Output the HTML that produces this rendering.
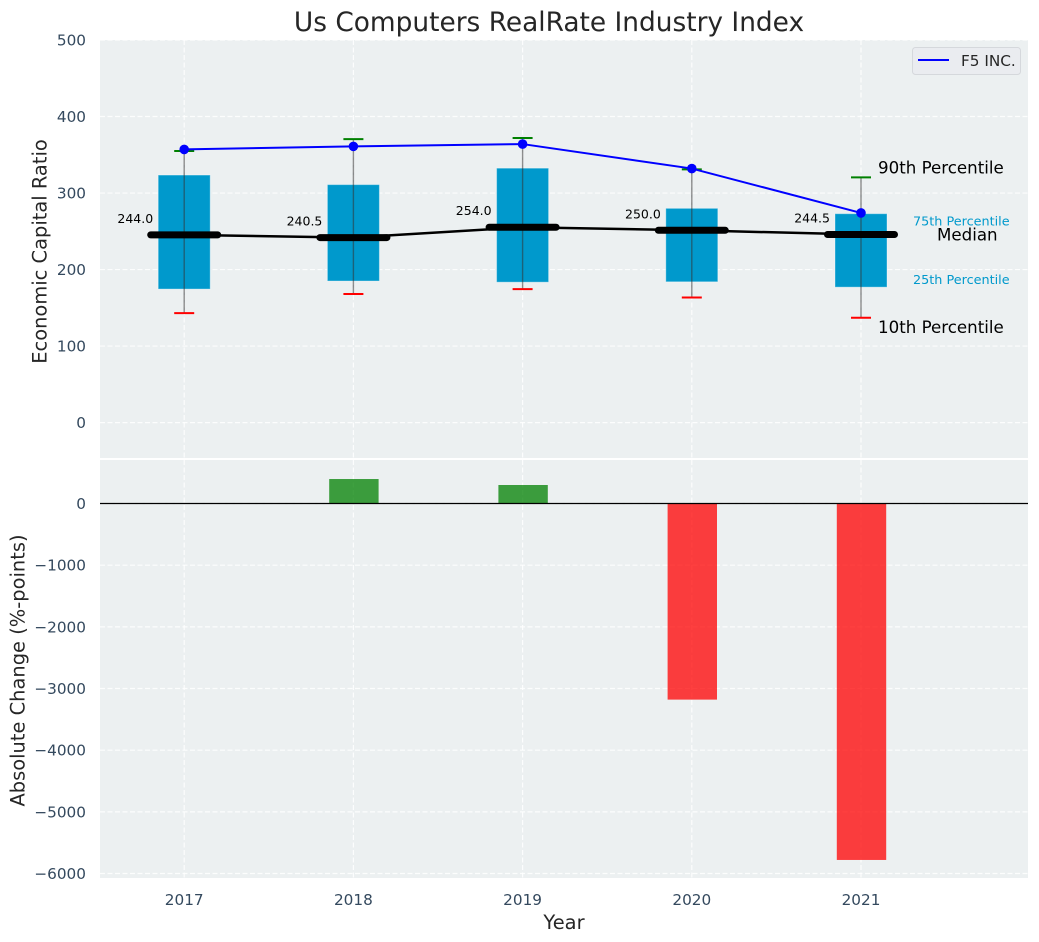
<!DOCTYPE html>
<html>
<head>
<meta charset="utf-8">
<title>Us Computers RealRate Industry Index</title>
<style>
html,body{margin:0;padding:0;background:#fff;width:1039px;height:942px;overflow:hidden}
svg{display:block}
text{font-family:"DejaVu Sans","Liberation Sans",sans-serif}
</style>
</head>
<body>
<svg id="chart" xmlns="http://www.w3.org/2000/svg" width="1039" height="942" viewBox="0 0 1039 942"></svg>
<script>
const years = [2017, 2018, 2019, 2020, 2021];
const p90 = [355, 370.5, 372, 331, 320.5];
const p75 = [323.5, 311, 332.5, 280, 273];
const medians = [244.0, 240.5, 254.0, 250.0, 244.5];
const p25 = [174.5, 185, 183.5, 184, 177];
const p10 = [143, 168, 174.5, 163.5, 137];
const companyValues = [357, 361, 364, 332, 274];
const changes = [0, 397, 300, -3180, -5780];
const topTicks = [0, 100, 200, 300, 400, 500];
const bottomTicks = [0, -1000, -2000, -3000, -4000, -5000, -6000];

const svg = document.getElementById('chart');
const NS = 'http://www.w3.org/2000/svg';
const X = v => 184.2 + (v - 2017) * 169.2;
const YT = v => 422.6 - v * 0.7652;
const YB = v => 503.5 - v * 0.06167;
const YM = v => YT(v) - 1;
const left = 100, right = 1028;
const tickFont = 15.28;

function add(tag, attrs, text) {
  const el = document.createElementNS(NS, tag);
  for (const k in attrs) el.setAttribute(k, attrs[k]);
  if (text !== undefined) el.textContent = text;
  svg.appendChild(el);
  return el;
}
function fmt(v) { return v < 0 ? '\u2212' + Math.abs(v) : String(v); }
const gridStyle = {stroke:'#ffffff','stroke-width':1.2,'stroke-dasharray':'5 2.5','stroke-opacity':0.85};

let el;
el = add('rect',{x:left,y:40,width:right-left,height:418,fill:'#ecf0f1'});


el = add('rect',{x:left,y:460,width:right-left,height:418,fill:'#ecf0f1'});



// gridlines and y ticks
topTicks.forEach(t => {
  let g = add('line',{x1:left,x2:right,y1:YT(t),y2:YT(t),...gridStyle});
  
  
  let l = add('text',{x:86,y:YT(t)+5.5,'text-anchor':'end','font-size':tickFont,fill:'#34495e'},fmt(t));
  
  
});
bottomTicks.forEach(t => {
  let g = add('line',{x1:left,x2:right,y1:YB(t),y2:YB(t),...gridStyle});
  
  
  let l = add('text',{x:86,y:YB(t)+5.5,'text-anchor':'end','font-size':tickFont,fill:'#34495e'},fmt(t));
  
  
});
years.forEach(y => {
  let g1 = add('line',{x1:X(y),x2:X(y),y1:40,y2:458,...gridStyle});
  
  
  let g2 = add('line',{x1:X(y),x2:X(y),y1:460,y2:878,...gridStyle});
  
  
  let l = add('text',{x:X(y),y:905,'text-anchor':'middle','font-size':tickFont,fill:'#34495e'},String(y));
  
  
});

// boxes
years.forEach((y,i) => {
  let b = add('rect',{x:X(y)-26,y:YT(p75[i]),width:52,height:YT(p25[i])-YT(p75[i]),fill:'#0099cc',stroke:'#ffffff','stroke-opacity':0.35,'stroke-width':1});
  
  
});

// median connecting line
let medLine = add('polyline',{points:years.map((y,i)=>X(y)+','+YM(medians[i])).join(' '),fill:'none',stroke:'#000000','stroke-width':2.5});



years.forEach((y,i) => {
  let w = add('line',{x1:X(y),x2:X(y),y1:YT(p90[i]),y2:YT(p10[i]),stroke:'#333333','stroke-opacity':0.55,'stroke-width':1.4});
  
  
  let c1 = add('line',{x1:X(y)-10,x2:X(y)+10,y1:YT(p90[i]),y2:YT(p90[i]),stroke:'#008000','stroke-width':2});
  
  
  let c2 = add('line',{x1:X(y)-10,x2:X(y)+10,y1:YT(p10[i]),y2:YT(p10[i]),stroke:'#ff0000','stroke-width':2});
  
  
  let m = add('line',{x1:X(y)-33.5,x2:X(y)+33.5,y1:YM(medians[i]),y2:YM(medians[i]),stroke:'#000000','stroke-width':7,'stroke-linecap':'round'});
  
  
  let t = add('text',{x:X(y)-31,y:YM(medians[i])-12,'text-anchor':'end','font-size':12.5,fill:'#000000'},medians[i].toFixed(1));
  
  
});

// company line
let coLine = add('polyline',{points:years.map((y,i)=>X(y)+','+YT(companyValues[i])).join(' '),fill:'none',stroke:'#0000ff','stroke-width':2});


years.forEach((y,i) => {
  let d = add('circle',{cx:X(y),cy:YT(companyValues[i]),r:4.8,fill:'#0000ff'});
  
  
});

// percentile annotations (anchored to last year)
const last = years.length - 1;
const lx = X(years[last]);
let a;
a = add('text',{x:lx+17,y:YT(p90[last])-4,'font-size':16.67,fill:'#000000'},'90th Percentile');


a = add('text',{x:lx+52,y:YT(p75[last])+12,'font-size':12.8,fill:'#0099cc'},'75th Percentile');


a = add('text',{x:lx+76,y:YT(medians[last])+5,'font-size':16.67,fill:'#000000'},'Median');


a = add('text',{x:lx+52,y:YT(p25[last])-3,'font-size':12.8,fill:'#0099cc'},'25th Percentile');


a = add('text',{x:lx+17,y:YT(p10[last])+15,'font-size':16.67,fill:'#000000'},'10th Percentile');



// change bars
years.forEach((y,i) => {
  if (changes[i] === 0) return;
  const top = Math.min(YB(changes[i]), YB(0));
  const h = Math.abs(YB(changes[i]) - YB(0));
  let b = add('rect',{x:X(y)-24.2,y:top,width:49.4,height:h,fill:changes[i] > 0 ? '#008000' : '#ff0000','fill-opacity':0.75});
  
  
});
let zero = add('line',{x1:left,x2:right,y1:YB(0),y2:YB(0),stroke:'#000000','stroke-width':1.3});



// legend
let lg = add('rect',{x:912.5,y:47.5,width:108,height:27,rx:3,fill:'#eaecf0',stroke:'#d5d8dc','stroke-width':1});


let ll = add('line',{x1:918,x2:949,y1:60,y2:60,stroke:'#0000ff','stroke-width':2});


let lt = add('text',{x:961,y:66,'font-size':tickFont,fill:'#262626'},'F5 INC.');



// titles
let ti = add('text',{x:549,y:31,'text-anchor':'middle','font-size':26.4,fill:'#262626'},'Us Computers RealRate Industry Index');


let xl = add('text',{x:564,y:929,'text-anchor':'middle','font-size':19.44,fill:'#262626'},'Year');


let yl1 = add('text',{transform:'translate(46.5,251.5) rotate(-90)','text-anchor':'middle','font-size':19.44,fill:'#262626'},'Economic Capital Ratio');


let yl2 = add('text',{transform:'translate(24.5,670.5) rotate(-90)','text-anchor':'middle','font-size':19.44,fill:'#262626'},'Absolute Change (%-points)');


</script>
</body>
</html>
